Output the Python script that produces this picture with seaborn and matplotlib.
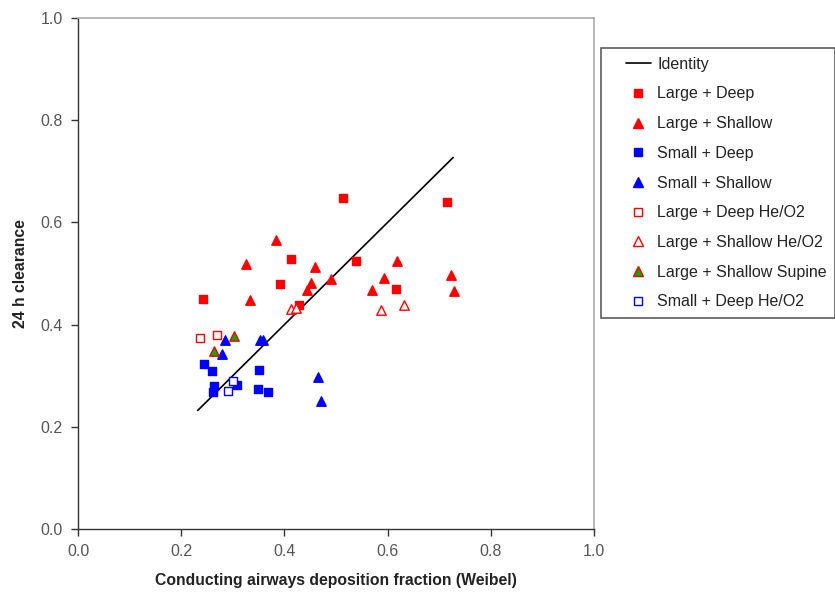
import matplotlib
matplotlib.use("Agg")
import matplotlib.pyplot as plt
import seaborn as sns
import pandas as pd
from matplotlib.lines import Line2D
from matplotlib.legend_handler import HandlerLine2D

# ---- data ----
large_deep_x = [0.513, 0.413, 0.539, 0.391, 0.243, 0.429, 0.715, 0.617]
large_deep_y = [0.647, 0.529, 0.524, 0.479, 0.450, 0.439, 0.639, 0.469]

large_shallow_x = [0.384, 0.326, 0.460, 0.452, 0.444, 0.490, 0.569, 0.333, 0.618, 0.593, 0.723, 0.728]
large_shallow_y = [0.566, 0.519, 0.513, 0.482, 0.468, 0.489, 0.468, 0.448, 0.524, 0.492, 0.497, 0.466]

small_deep_x = [0.245, 0.260, 0.351, 0.264, 0.261, 0.309, 0.348, 0.369]
small_deep_y = [0.322, 0.310, 0.312, 0.280, 0.269, 0.282, 0.273, 0.269]

small_shallow_x = [0.284, 0.352, 0.358, 0.280, 0.466, 0.470]
small_shallow_y = [0.369, 0.370, 0.370, 0.342, 0.297, 0.251]

large_deep_heo2_x = [0.236, 0.269]
large_deep_heo2_y = [0.373, 0.380]

large_shallow_heo2_x = [0.412, 0.422, 0.588, 0.631]
large_shallow_heo2_y = [0.430, 0.432, 0.429, 0.438]

large_shallow_supine_x = [0.302, 0.263]
large_shallow_supine_y = [0.378, 0.348]

small_deep_heo2_x = [0.300, 0.291]
small_deep_heo2_y = [0.290, 0.270]

identity_x = [0.232, 0.727]
identity_y = [0.232, 0.727]

x_ticks = [0.0, 0.2, 0.4, 0.6, 0.8, 1.0]
y_ticks = [0.0, 0.2, 0.4, 0.6, 0.8, 1.0]

groups = [
    ("Large + Deep", large_deep_x, large_deep_y, "s", "#FF0000", "#FF0000", 34),
    ("Large + Shallow", large_shallow_x, large_shallow_y, "^", "#FF0000", "#FF0000", 46),
    ("Small + Deep", small_deep_x, small_deep_y, "s", "#0000FF", "#0000FF", 34),
    ("Small + Shallow", small_shallow_x, small_shallow_y, "^", "#0000FF", "#0000FF", 46),
    ("Large + Deep He/O2", large_deep_heo2_x, large_deep_heo2_y, "s", "white", "#FF0000", 34),
    ("Large + Shallow He/O2", large_shallow_heo2_x, large_shallow_heo2_y, "^", "white", "#FF0000", 46),
    ("Large + Shallow Supine", large_shallow_supine_x, large_shallow_supine_y, "^", "#00B000", "#FF0000", 46),
    ("Small + Deep He/O2", small_deep_heo2_x, small_deep_heo2_y, "s", "white", "#0000FF", 34),
]

sns.set_theme(style="white")
plt.rcParams["font.family"] = ["Liberation Sans", "DejaVu Sans"]

fig = plt.figure(figsize=(8.35, 5.93), dpi=100)
ax = fig.add_axes([78/835, 64/593, (594-78)/835, (529-18)/593])

sns.lineplot(x=identity_x, y=identity_y, ax=ax, color="black", linewidth=1.2)

for name, xs, ys, mk, fc, ec, sz in groups:
    df = pd.DataFrame({"x": xs, "y": ys})
    sns.scatterplot(data=df, x="x", y="y", ax=ax, marker=mk, s=sz,
                    facecolor=fc, edgecolor=ec, linewidth=1.0, zorder=3)

ax.set_xlim(0, 1)
ax.set_ylim(0, 1)
ax.set_xticks(x_ticks)
ax.set_yticks(y_ticks)
ax.set_xticklabels([f"{v:.1f}" for v in x_ticks])
ax.set_yticklabels([f"{v:.1f}" for v in y_ticks])
ax.tick_params(axis="both", direction="out", length=5, width=1, colors="#333333",
               labelsize=11.5, labelcolor="#555555", bottom=True, left=True, pad=6)
ax.set_xlabel("Conducting airways deposition fraction (Weibel)", fontsize=11.3,
              fontweight="bold", color="#222222", labelpad=10)
ax.set_ylabel("24 h clearance", fontsize=11.3, fontweight="bold", color="#222222", labelpad=9)
for s in ["left", "bottom"]:
    ax.spines[s].set_color("#333333")
    ax.spines[s].set_linewidth(1)
for s in ["top", "right"]:
    ax.spines[s].set_color("#AAAAAA")
    ax.spines[s].set_linewidth(1.2)

handles = [Line2D([0], [0], color="black", linewidth=1.2, label="Identity")]
for name, xs, ys, mk, fc, ec, sz in groups:
    handles.append(Line2D([0], [0], linestyle="none", marker=mk, markersize=6 if mk == "s" else 7,
                          markerfacecolor=fc, markeredgecolor=ec, markeredgewidth=1.0, label=name))

leg = fig.legend(handles=handles, loc="upper left", bbox_to_anchor=(601/835, 1 - 48/593),
                 bbox_transform=fig.transFigure, frameon=True, fancybox=False,
                 fontsize=11.5, labelspacing=0.92, handlelength=2.56, borderpad=0.55,
                 borderaxespad=0, handletextpad=0.4,
                 handler_map={Line2D: HandlerLine2D(xpad=1.0)})
leg.get_frame().set_edgecolor("#333333")
leg.get_frame().set_linewidth(1.2)
for t in leg.get_texts():
    t.set_color("#222222")

fig.savefig("out.png", dpi=100)
